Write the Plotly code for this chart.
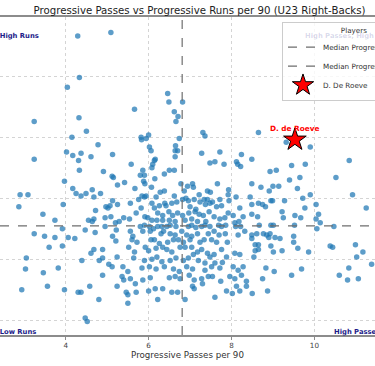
import plotly.graph_objects as go

# Progressive passes per 90 (x) and progressive runs per 90 (y)
passes = [
    4.29, 5.09, 4.33, 4.04, 3.24, 4.32, 4.50, 4.15, 4.78, 4.02, 4.17, 4.37, 4.61, 5.13, 3.24, 4.31, 4.33,
    4.91, 5.12, 5.15, 5.25, 3.97, 4.17, 4.25, 4.37, 4.49, 4.64, 4.84, 4.68, 2.90, 3.09, 2.87, 3.94, 5.13,
    5.25, 5.07, 4.97, 5.02, 4.72, 3.45, 5.09, 4.95, 4.55, 4.64, 4.68, 3.74, 5.20, 5.29, 4.95, 3.92, 3.24,
    3.49, 3.74, 4.06, 4.22, 4.47, 4.71, 5.22, 5.13, 5.21, 3.60, 3.92, 4.68, 4.61, 4.89, 3.05, 4.39, 4.81,
    4.89, 5.24, 3.03, 3.82, 3.46, 5.04, 5.12, 4.89, 4.58, 5.24, 2.94, 3.56, 3.97, 4.30, 4.37, 4.80, 4.47,
    4.52,
    6.46, 6.49, 6.82, 5.66, 6.62, 6.71, 6.66, 5.82, 5.83, 5.94, 6.00, 6.74, 7.31, 7.36, 6.02, 6.06, 6.65,
    6.64, 6.70, 6.64, 7.28, 7.72, 6.16, 6.14, 6.10, 5.58, 7.48, 7.60, 7.82, 8.12, 8.15, 8.24, 8.22, 6.08,
    5.86,
    6.50, 6.62, 5.80, 5.90, 6.38, 5.42, 5.88, 5.91, 6.15, 5.67, 6.07, 6.78, 6.94, 7.06, 7.08, 6.86, 7.66,
    7.22, 7.42, 7.49, 7.93, 7.92, 6.28, 6.38, 5.94, 5.90, 5.84, 6.18, 6.62, 5.56, 5.76, 6.39, 6.42, 6.56,
    6.68, 6.82, 6.90, 6.96, 7.10, 7.24, 7.34, 7.42, 7.54, 7.72, 7.94, 8.11, 6.08, 6.14, 5.82, 6.26, 7.00,
    7.14, 7.37, 7.48, 7.64, 7.76, 8.20, 5.70, 5.54, 5.91, 5.98, 6.22, 6.34, 6.49, 6.58, 6.70, 6.82, 6.97,
    7.12, 7.22, 7.32, 7.46, 7.58, 7.72, 7.84, 7.92, 8.04, 8.28, 5.40, 6.08, 6.20, 6.34, 6.50, 6.64, 6.88,
    7.04, 7.18, 7.38, 8.08, 8.18, 5.80, 5.90, 6.02, 6.12, 6.22, 6.32, 6.44, 6.52, 6.66, 6.96, 7.04, 7.14,
    7.28, 7.36, 7.48, 7.69, 7.76, 7.86, 8.10, 8.22, 5.56, 5.62, 5.60, 5.86, 6.04, 6.30, 6.36, 6.52, 6.64,
    6.80, 6.92, 7.04, 7.18, 7.44, 7.58, 7.70, 7.85, 7.90, 8.16, 8.32, 5.72, 6.06, 6.14, 6.26, 6.46, 6.60,
    6.72, 6.84, 7.00, 7.24, 7.34, 7.52, 7.64, 5.52, 5.66, 5.92, 6.00, 6.18, 6.34, 6.44, 6.56, 6.76, 6.88,
    7.04, 7.08, 7.18, 7.28, 7.42, 7.48, 7.58, 7.76, 7.88, 8.08, 8.20, 5.64, 5.90, 6.08, 6.20, 6.32, 6.52,
    6.66, 6.84, 6.96, 7.20, 7.36, 7.60, 7.78, 5.50, 5.38, 5.84, 6.02, 6.18, 6.38, 6.60, 6.74, 6.92, 7.06,
    7.36, 7.52, 7.72, 8.04, 8.16, 8.28, 5.36, 5.40, 5.56, 5.68, 5.86, 6.04, 6.50, 6.64, 6.76, 6.98, 7.10,
    7.28, 7.44, 7.54, 7.74, 7.96, 8.08, 8.24, 8.36, 5.46, 5.50, 5.50, 5.70, 6.00, 6.16, 6.34, 6.22, 6.56,
    6.70, 6.88, 7.06, 7.10, 7.30, 7.60, 7.88, 8.02, 8.12, 8.20, 8.36,
    8.65, 9.32, 9.90, 8.49, 8.93, 9.08, 9.45, 9.78, 10.84, 10.52, 9.40, 9.65, 8.49, 8.71, 8.91, 9.00, 9.14,
    9.59, 9.90, 10.92, 9.72,
    8.45, 8.49, 8.65, 8.75, 8.82, 8.95, 8.99, 9.28, 9.77, 10.04, 11.25, 8.49, 8.63, 9.22, 9.25, 9.53, 9.67,
    10.10, 10.04, 10.14, 8.67, 8.95, 9.01, 9.52, 10.06, 10.47, 8.49, 8.61, 8.77, 8.85, 8.90, 8.93, 9.05,
    9.17, 9.50, 9.50, 8.49, 8.57, 8.65, 8.57, 8.65, 8.95, 9.60, 9.01, 9.22, 9.86, 10.38, 10.44, 10.99,
    11.17, 11.02, 8.54, 11.38, 8.83, 9.03, 9.69, 10.83, 10.60, 10.80, 11.06, 8.75, 9.45, 8.87, 8.50,
]
runs = [
    2.83, 2.86, 2.49, 2.41, 2.13, 2.16, 2.05, 2.00, 1.94, 1.88, 1.85, 1.87, 1.84, 1.86, 1.82, 1.81, 1.73,
    1.72, 1.68, 1.67, 1.61, 1.64, 1.58, 1.54, 1.52, 1.54, 1.57, 1.54, 1.51, 1.53, 1.53, 1.43, 1.45, 1.48,
    1.45, 1.44, 1.43, 1.42, 1.40, 1.37, 1.35, 1.34, 1.32, 1.31, 1.33, 1.32, 1.30, 1.31, 1.27, 1.25, 1.21,
    1.19, 1.18, 1.18, 1.17, 1.24, 1.22, 1.24, 1.19, 1.15, 1.10, 1.11, 1.08, 1.05, 1.08, 1.01, 0.99, 0.99,
    1.01, 1.02, 0.92, 0.93, 0.89, 0.96, 0.94, 0.87, 0.78, 0.78, 0.75, 0.78, 0.75, 0.73, 0.73, 0.67, 0.52,
    0.49,
    2.36, 2.29, 2.29, 2.23, 2.21, 2.17, 2.13, 2.00, 1.98, 1.99, 2.02, 1.99, 2.04, 2.01, 1.92, 1.89, 1.93,
    1.89, 1.89, 1.84, 1.87, 1.88, 1.82, 1.81, 1.78, 1.78, 1.79, 1.80, 1.78, 1.80, 1.78, 1.86, 1.76, 1.75,
    1.73,
    1.73, 1.73, 1.69, 1.69, 1.70, 1.63, 1.64, 1.62, 1.66, 1.58, 1.59, 1.62, 1.60, 1.62, 1.59, 1.56, 1.62,
    1.53, 1.56, 1.55, 1.57, 1.53, 1.55, 1.56, 1.52, 1.51, 1.52, 1.51, 1.52, 1.46, 1.49, 1.46, 1.44, 1.46,
    1.47, 1.49, 1.50, 1.48, 1.49, 1.47, 1.49, 1.49, 1.47, 1.49, 1.48, 1.51, 1.46, 1.42, 1.42, 1.44, 1.43,
    1.41, 1.45, 1.46, 1.43, 1.44, 1.42, 1.38, 1.33, 1.35, 1.34, 1.38, 1.36, 1.39, 1.36, 1.38, 1.36, 1.38,
    1.39, 1.37, 1.36, 1.39, 1.35, 1.33, 1.34, 1.38, 1.36, 1.35, 1.34, 1.32, 1.32, 1.32, 1.32, 1.31, 1.32,
    1.33, 1.31, 1.31, 1.30, 1.31, 1.27, 1.28, 1.27, 1.25, 1.27, 1.27, 1.27, 1.28, 1.27, 1.27, 1.28, 1.26,
    1.27, 1.28, 1.27, 1.28, 1.27, 1.28, 1.27, 1.27, 1.23, 1.19, 1.16, 1.23, 1.23, 1.21, 1.23, 1.21, 1.20,
    1.23, 1.20, 1.19, 1.21, 1.21, 1.23, 1.20, 1.21, 1.14, 1.20, 1.23, 1.14, 1.16, 1.16, 1.13, 1.14, 1.16,
    1.16, 1.14, 1.16, 1.14, 1.16, 1.16, 1.14, 1.10, 1.06, 1.10, 1.07, 1.09, 1.10, 1.08, 1.06, 1.10, 1.10,
    1.10, 1.04, 1.06, 1.08, 1.05, 1.02, 1.04, 1.08, 1.02, 1.05, 1.04, 1.01, 0.99, 1.00, 1.02, 0.98, 0.99,
    1.01, 0.99, 1.01, 0.99, 0.97, 0.97, 0.975, 0.90, 0.94, 0.93, 0.94, 0.92, 0.94, 0.92, 0.90, 0.94, 0.92,
    0.91, 0.94, 0.93, 0.94, 0.91, 0.94, 0.86, 0.83, 0.84, 0.80, 0.83, 0.85, 0.85, 0.86, 0.84, 0.87, 0.83,
    0.84, 0.86, 0.86, 0.82, 0.86, 0.84, 0.87, 0.82, 0.73, 0.71, 0.64, 0.73, 0.74, 0.76, 0.76, 0.67, 0.73,
    0.73, 0.67, 0.78, 0.76, 0.80, 0.69, 0.74, 0.72, 0.78, 0.74, 0.78,
    2.04, 1.96, 1.92, 1.82, 1.72, 1.73, 1.77, 1.78, 1.81, 1.67, 1.65, 1.67, 1.62, 1.59, 1.56, 1.60, 1.60,
    1.58, 1.53, 1.53, 1.50,
    1.51, 1.45, 1.46, 1.45, 1.43, 1.48, 1.48, 1.48, 1.42, 1.45, 1.42, 1.37, 1.35, 1.39, 1.34, 1.36, 1.34,
    1.37, 1.33, 1.30, 1.28, 1.28, 1.28, 1.28, 1.25, 1.27, 1.20, 1.21, 1.21, 1.20, 1.18, 1.21, 1.18,
    1.17, 1.19, 1.14, 1.17, 1.12, 1.12, 1.07, 1.08, 1.11, 1.09, 1.06, 1.07, 1.06, 1.11, 1.10, 1.12,
    1.06, 1.02, 1.02, 0.96, 0.93, 0.90, 0.92, 0.93, 0.87, 0.83, 0.84, 0.84, 0.87, 0.74, 0.72,
]

highlight_name = "D. De Roeve"
highlight_label = "D. de Roeve"
highlight_passes = [9.53]
highlight_runs = [1.98]

median_passes = 6.81
median_runs = 1.275

x_range = [2.415, 11.462]
y_range = [0.38, 2.986]
x_ticks = [4, 6, 8, 10]
x_tick_labels = ["4", "6", "8", "10"]

title_text = "Progressive Passes vs Progressive Runs per 90 (U23 Right-Backs)"
x_title = "Progressive Passes per 90"
legend_title = "Players"
quadrant_labels = {
    "tl": "Low Passes, High Runs",
    "tr": "High Passes, High Runs",
    "bl": "Low Passes, Low Runs",
    "br": "High Passes, Low Runs",
}

FONT = "DejaVu Sans"
W, H = 375, 366
ML, MR, MT, MB = 0, 0, 17, 31
PH = H - MT - MB
NAVY = "#1c1c8a"

fig = go.Figure()

fig.add_trace(go.Scatter(
    x=passes, y=runs, mode="markers", name="U23 Right-Backs", showlegend=False,
    marker=dict(size=5.5, color="#1f77b4", opacity=0.72, line=dict(width=0)),
    hoverinfo="x+y",
))

fig.add_trace(go.Scatter(
    x=[median_passes, median_passes], y=y_range, mode="lines",
    name="Median Progressive Passes",
    line=dict(color="#6e6e6e", dash="dash", width=1.2),
))
fig.add_trace(go.Scatter(
    x=x_range, y=[median_runs, median_runs], mode="lines",
    name="Median Progressive Runs",
    line=dict(color="#6e6e6e", dash="dash", width=1.2),
))

fig.add_trace(go.Scatter(
    x=highlight_passes, y=highlight_runs, mode="markers", name=highlight_name,
    marker=dict(symbol="star", size=17, color="red", line=dict(color="black", width=1)),
))


def ypaper(py):
    return (H - MB - py) / PH


annotations = [
    dict(x=highlight_passes[0], y=highlight_runs[0], xref="x", yref="y", yshift=11,
         text="<b>" + highlight_label + "</b>", showarrow=False,
         font=dict(family=FONT, size=7.3, color="red")),
    dict(x=303 / W, y=ypaper(36), xref="paper", yref="paper", xanchor="left", yanchor="middle",
         text="<b>" + quadrant_labels["tr"] + "</b>", showarrow=False,
         font=dict(family=FONT, size=6.8, color="rgba(28,28,138,0.18)")),
    dict(x=41 / W, y=ypaper(36), xref="paper", yref="paper", xanchor="right", yanchor="middle",
         text="<b>" + quadrant_labels["tl"] + "</b>", showarrow=False,
         font=dict(family=FONT, size=6.8, color=NAVY)),
    dict(x=38 / W, y=ypaper(332), xref="paper", yref="paper", xanchor="right", yanchor="middle",
         text="<b>" + quadrant_labels["bl"] + "</b>", showarrow=False,
         font=dict(family=FONT, size=6.8, color=NAVY)),
    dict(x=332 / W, y=ypaper(332), xref="paper", yref="paper", xanchor="left", yanchor="middle",
         text="<b>" + quadrant_labels["br"] + "</b>", showarrow=False,
         font=dict(family=FONT, size=6.8, color=NAVY)),
]

fig.update_layout(
    width=W, height=H,
    margin=dict(l=ML, r=MR, t=MT, b=MB, pad=0, autoexpand=False),
    paper_bgcolor="white", plot_bgcolor="white",
    font=dict(family=FONT, size=8, color="#333333"),
    title=dict(text=title_text, x=199.5 / W, xanchor="center", y=1 - 10 / H, yanchor="middle",
               font=dict(family=FONT, size=10.2, color="#222222")),
    xaxis=dict(
        range=x_range, tickvals=x_ticks, ticktext=x_tick_labels,
        showgrid=True, gridcolor="#d4d4d4", griddash="dot", gridwidth=1,
        zeroline=False, showline=True, linecolor="#8c8c8c", linewidth=1.5, mirror=True,
        ticks="outside", ticklen=3, tickcolor="#8c8c8c", tickwidth=1,
        tickfont=dict(family=FONT, size=7.2, color="#444444"),
        title=dict(text=x_title, standoff=3, font=dict(family=FONT, size=8.7, color="#333333")),
    ),
    yaxis=dict(
        range=y_range, dtick=0.5, tick0=0.5, showticklabels=False,
        showgrid=True, gridcolor="#d4d4d4", griddash="dot", gridwidth=1,
        zeroline=False, showline=False, ticks="",
    ),
    legend=dict(
        title=dict(text=legend_title, side="top center", font=dict(family=FONT, size=7.2, color="#333333")),
        x=282 / W, y=ypaper(22.3), xanchor="left", yanchor="top",
        bgcolor="rgba(255,255,255,0.8)", bordercolor="#cccccc", borderwidth=1,
        font=dict(family=FONT, size=7.2, color="#333333"), tracegroupgap=0, itemwidth=30,
    ),
    annotations=annotations,
    showlegend=True,
)

fig.write_html(
    "out.html",
    config={"displayModeBar": False},
    post_script="document.body.style.margin='0';document.body.style.overflow='hidden';",
)
